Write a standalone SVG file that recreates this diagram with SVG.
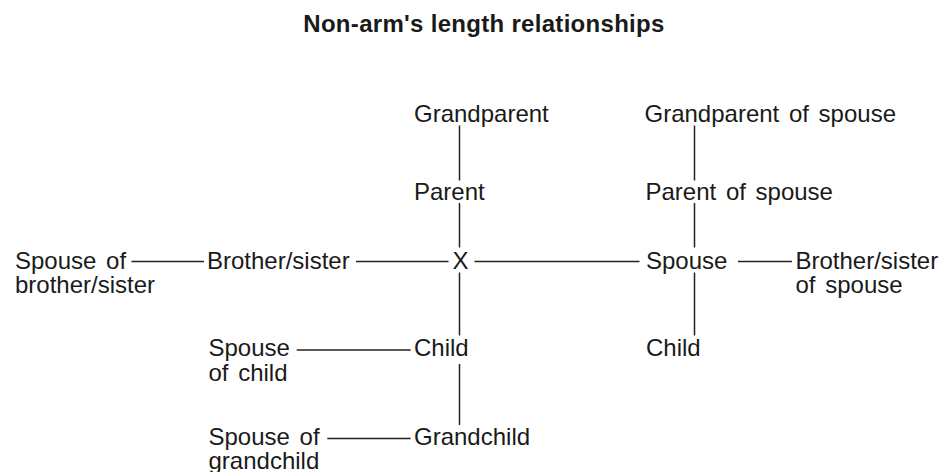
<svg xmlns="http://www.w3.org/2000/svg" width="946" height="472" viewBox="0 0 946 472">
<style>
text{font-family:"Liberation Sans",Arial,Helvetica,sans-serif;font-size:24px;fill:#1a1a1a;word-spacing:3px}
.title{font-weight:bold;letter-spacing:0.3px;word-spacing:0}
.c line{stroke:#222;stroke-width:1.5}
</style>
<rect width="946" height="472" fill="#fff"/>
<text class="title" x="484" y="32" text-anchor="middle">Non-arm's length relationships</text>
<g class="c" id="connectors">
<line x1="459.5" y1="125.5" x2="459.5" y2="180.5"/>
<line x1="459.5" y1="203" x2="459.5" y2="247.5"/>
<line x1="459.5" y1="272.5" x2="459.5" y2="335.5"/>
<line x1="459.5" y1="364" x2="459.5" y2="425"/>
<line x1="694.5" y1="125.5" x2="694.5" y2="180.5"/>
<line x1="694.5" y1="203" x2="694.5" y2="247.5"/>
<line x1="694.5" y1="272.5" x2="694.5" y2="335.5"/>
<line x1="131.5" y1="261.5" x2="204" y2="261.5"/>
<line x1="356" y1="261.5" x2="448.5" y2="261.5"/>
<line x1="474.5" y1="261.5" x2="639.5" y2="261.5"/>
<line x1="738" y1="261.5" x2="792" y2="261.5"/>
<line x1="296.7" y1="350" x2="410.7" y2="350"/>
<line x1="327.3" y1="438.5" x2="410.7" y2="438.5"/>
</g>
<g id="grandparent"><text x="414" y="122">Grandparent</text></g>
<g id="parent"><text x="414" y="199.5">Parent</text></g>
<g id="x"><text x="452.5" y="269">X</text></g>
<g id="brother-sister"><text x="207" y="269">Brother/sister</text></g>
<g id="spouse-of-brother-sister"><text x="15" y="268.5">Spouse of</text><text x="15" y="293">brother/sister</text></g>
<g id="spouse"><text x="646" y="269">Spouse</text></g>
<g id="brother-sister-of-spouse"><text x="795.5" y="268.5">Brother/sister</text><text x="795.5" y="293">of spouse</text></g>
<g id="grandparent-of-spouse"><text x="644.5" y="122">Grandparent of spouse</text></g>
<g id="parent-of-spouse"><text x="645.5" y="199.5">Parent of spouse</text></g>
<g id="child-of-spouse"><text x="646" y="356">Child</text></g>
<g id="child"><text x="414" y="356">Child</text></g>
<g id="spouse-of-child"><text x="208.5" y="356">Spouse</text><text x="208.5" y="380.5">of child</text></g>
<g id="grandchild"><text x="414" y="445">Grandchild</text></g>
<g id="spouse-of-grandchild"><text x="208.5" y="445">Spouse of</text><text x="208.5" y="469">grandchild</text></g>
</svg>
